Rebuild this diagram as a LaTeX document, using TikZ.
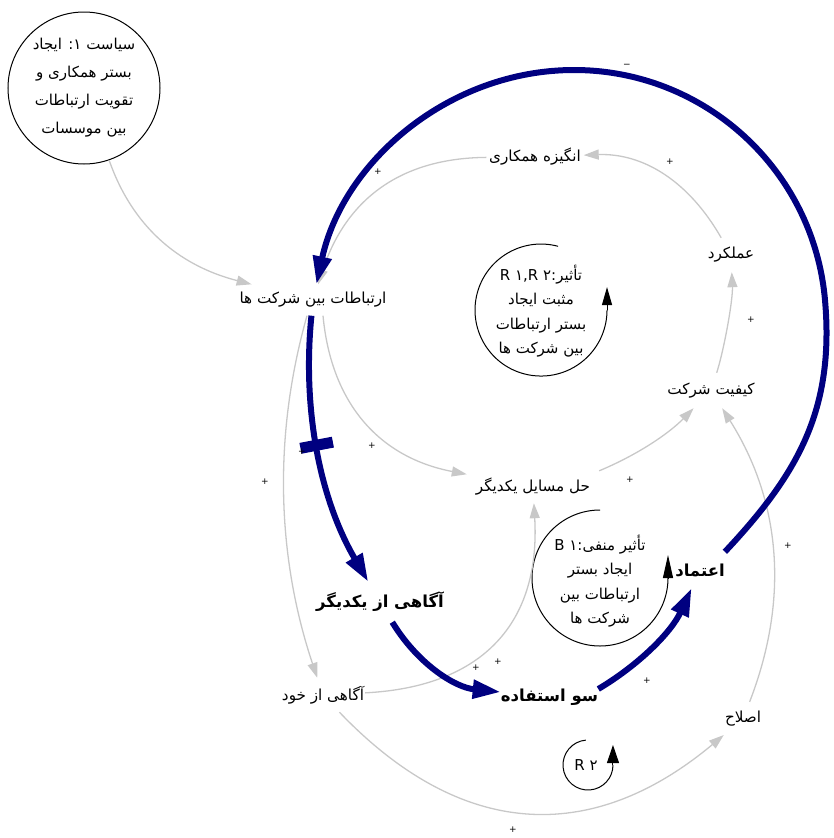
\documentclass[tikz,border=0pt]{standalone}
\usepackage{fontspec}
\setmainfont{DejaVu Sans}
\newfontfamily\fa[Script=Arabic]{DejaVu Sans}
\TeXXeTstate=1
\usetikzlibrary{arrows.meta,decorations.markings}
\definecolor{navyc}{RGB}{0,0,128}
\definecolor{linkgray}{RGB}{200,200,200}
\newcommand{\rtlx}[1]{\beginR #1\endR}
\begin{document}
\begin{tikzpicture}[x=1pt,y=1pt,
  lbl/.style={font=\fa\fontsize{15.2}{18}\selectfont, inner sep=0pt},
  blbl/.style={font=\fa\bfseries\fontsize{16.5}{19}\selectfont, inner sep=0pt},
  sgn/.style={font=\fontsize{9}{9}\selectfont, inner sep=0pt},
  looptxt/.style={font=\fa\fontsize{15}{24.5}\selectfont, align=center, inner sep=0pt},
  glink/.style={draw=linkgray, line width=1.3pt, -{Triangle[length=15pt,width=10pt]}},
  nlink/.style={draw=navyc, line width=6pt, -{Triangle[length=28pt,width=18pt]}},
  loopline/.style={draw=black, line width=1pt},
  delaymark/.style={postaction={decorate, decoration={markings,
      mark=at position 0.47 with {\fill[navyc] (-5.5pt,-16.5pt) rectangle (5.5pt,16.5pt);}}}},
]
\useasboundingbox (0,0) rectangle (834,-838);

% policy circle
\node[draw, circle, minimum size=152pt, inner sep=0pt, line width=1pt] (pol) at (84,-88) {};
\node[font=\fa\fontsize{15}{28}\selectfont, align=center, inner sep=0pt] (poltext) at (84,-88)
  {\rtlx{سیاست ۱: ایجاد}\\ \rtlx{بستر همکاری و}\\ \rtlx{تقویت ارتباطات}\\ \rtlx{بین موسسات}};

% variables
\node[lbl, minimum width=144pt, minimum height=31pt] (A) at (313,-300) {\rtlx{ارتباطات بین شرکت ها}};
\node[lbl, minimum width=97pt, minimum height=28pt] (M) at (535,-157) {\rtlx{انگیزه همکاری}};
\node[lbl, minimum width=54pt, minimum height=34pt] (P) at (731,-255) {\rtlx{عملکرد}};
\node[lbl, minimum width=92pt, minimum height=35pt] (Q) at (711,-390.5) {\rtlx{کیفیت شرکت}};
\node[lbl, minimum width=132pt, minimum height=32pt] (S) at (533,-487) {\rtlx{حل مسایل یکدیگر}};
\node[blbl, minimum width=134pt, minimum height=40pt] (AW) at (380,-602) {\rtlx{آگاهی از یکدیگر}};
\node[lbl, minimum width=84pt, minimum height=34pt] (SA) at (323,-695) {\rtlx{آگاهی از خود}};
\node[blbl, minimum width=93pt, minimum height=28pt] (MU) at (549.5,-697) {\rtlx{سو استفاده}};
\node[blbl, minimum width=48pt, minimum height=36pt] (T) at (700,-570) {\rtlx{اعتماد}};
\node[lbl, minimum width=38pt, minimum height=34pt] (R) at (743,-719) {\rtlx{اصلاح}};

% loop labels
\node[looptxt] (L1) at (541,-311) {\rtlx{تأثیر:\beginL R ۱,R ۲\endL}\\ \rtlx{مثبت ایجاد}\\ \rtlx{بستر ارتباطات}\\ \rtlx{بین شرکت ها}};
\node[looptxt] (L2) at (600,-581) {\rtlx{تأثیر منفی:\beginL B ۱\endL}\\ \rtlx{ایجاد بستر}\\ \rtlx{ارتباطات بین}\\ \rtlx{شرکت ها}};
\node[looptxt] (L3) at (586,-765) {R ۲};

\draw[loopline] (558.1,-246.3) arc[start angle=75, end angle=360, radius=66]
  edge[-{Triangle[length=18pt,width=10pt]}] ++(0,23);
\draw[loopline] (600,-510) arc[start angle=90, end angle=360, radius=68]
  edge[-{Triangle[length=23pt,width=10pt]}] ++(0,23);
\draw[loopline] (585.8,-740.1) arc[start angle=95, end angle=360, radius=25]
  edge[-{Triangle[length=18pt,width=12pt]}] ++(0,20);

% gray links
\draw[glink] (pol) .. controls (131.7,-225) and (177.3,-265.3) .. (A);
\draw[glink] (M) .. controls (397.2,-158.1) and (344.9,-202.4) .. (A);
\draw[glink] (P) .. controls (688.9,-181.3) and (643.3,-152.9) .. (M);
\draw[glink] (Q) .. controls (724,-350) and (733,-300) .. (P);
\draw[glink] ([xshift=10pt]A.south) .. controls (331.3,-404.3) and (379.9,-457.6) .. (S);
\draw[glink] (S.north east) .. controls (634.7,-456) and (667,-435.3) .. (Q);
\draw[glink] ([xshift=-6pt]A.south) .. controls (272.4,-438.1) and (277.4,-558.7) .. (SA);
\draw[glink] (SA) .. controls (483.8,-686.8) and (540.5,-622.1) .. (S);
\draw[glink] (SA) .. controls (460.1,-838.4) and (590.4,-846.4) .. (R);
\draw[glink] (R) .. controls (789.8,-597.9) and (780.5,-500.6) .. (Q);

% navy links
\draw[nlink, delaymark] (A) .. controls (302,-410.5) and (320.3,-499.5) .. (AW);
\draw[nlink] (AW) .. controls (417.5,-663.6) and (454.5,-687.3) .. (MU);
\draw[nlink] ([yshift=8pt]MU.east) .. controls (639.4,-664.5) and (671.4,-631.9) .. (T);
\draw[nlink] (T.north east) .. controls (798,-474) and (834.6,-409.6) .. (825,-300)
  .. controls (813.6,-169.8) and (704.7,-70) .. (574,-70)
  .. controls (449.2,-70) and (343.2,-161.4) .. (A);

% polarity signs
\node[sgn] (s1) at (378,-172) {+};
\node[sgn] (s2) at (670,-162) {+};
\node[sgn] (s3) at (751,-320) {+};
\node[sgn] (s4) at (372,-446) {+};
\node[sgn] (s5) at (630,-480) {+};
\node[sgn] (s6) at (265,-482) {+};
\node[sgn] (s7) at (302,-452) {+};
\node[sgn] (s8) at (476,-668) {+};
\node[sgn] (s9) at (498,-662) {+};
\node[sgn] (s10) at (647,-681) {+};
\node[sgn] (s11) at (513,-830) {+};
\node[sgn] (s12) at (788,-546) {+};
\node[sgn] (s13) at (627,-66) {−};
\end{tikzpicture}
\end{document}
